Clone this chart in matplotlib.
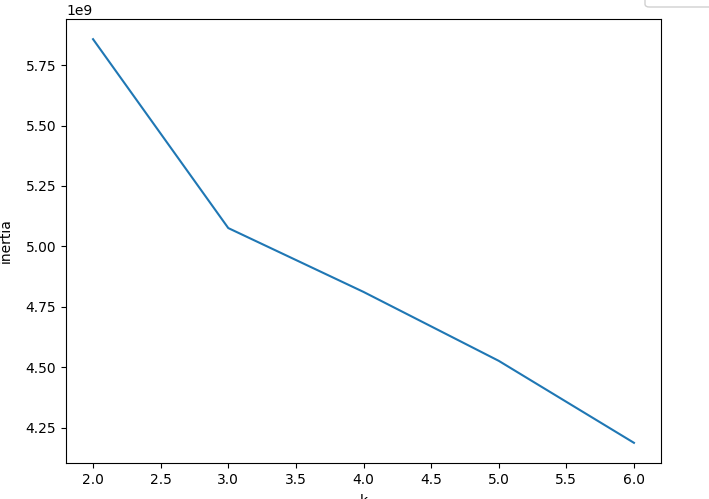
import matplotlib
matplotlib.use("Agg")
import matplotlib.pyplot as plt
from matplotlib.patches import FancyBboxPatch

# elbow curve values
k_values = [2, 3, 4, 5, 6]
inertia = [5.857e9, 5.076e9, 4.812e9, 4.527e9, 4.188e9]

fig = plt.figure(figsize=(7.09, 4.99), dpi=100)
ax = fig.add_axes([66 / 709, 36 / 499, 595 / 709, 444 / 499])
ax.plot(k_values, inertia)
ax.set_xlabel("k", labelpad=5)
ax.set_ylabel("inertia", labelpad=9)

# the little popup box cut off at the top right of the screenshot
popup = FancyBboxPatch((645 / 709, 1 - 7 / 499), 80 / 709, 30 / 499,
                       boxstyle="round,pad=0,rounding_size=0.006",
                       transform=fig.transFigure, facecolor="white",
                       edgecolor="#d0d0d0", linewidth=1.0, clip_on=False)
fig.patches.append(popup)

fig.savefig("out.png", dpi=100)
